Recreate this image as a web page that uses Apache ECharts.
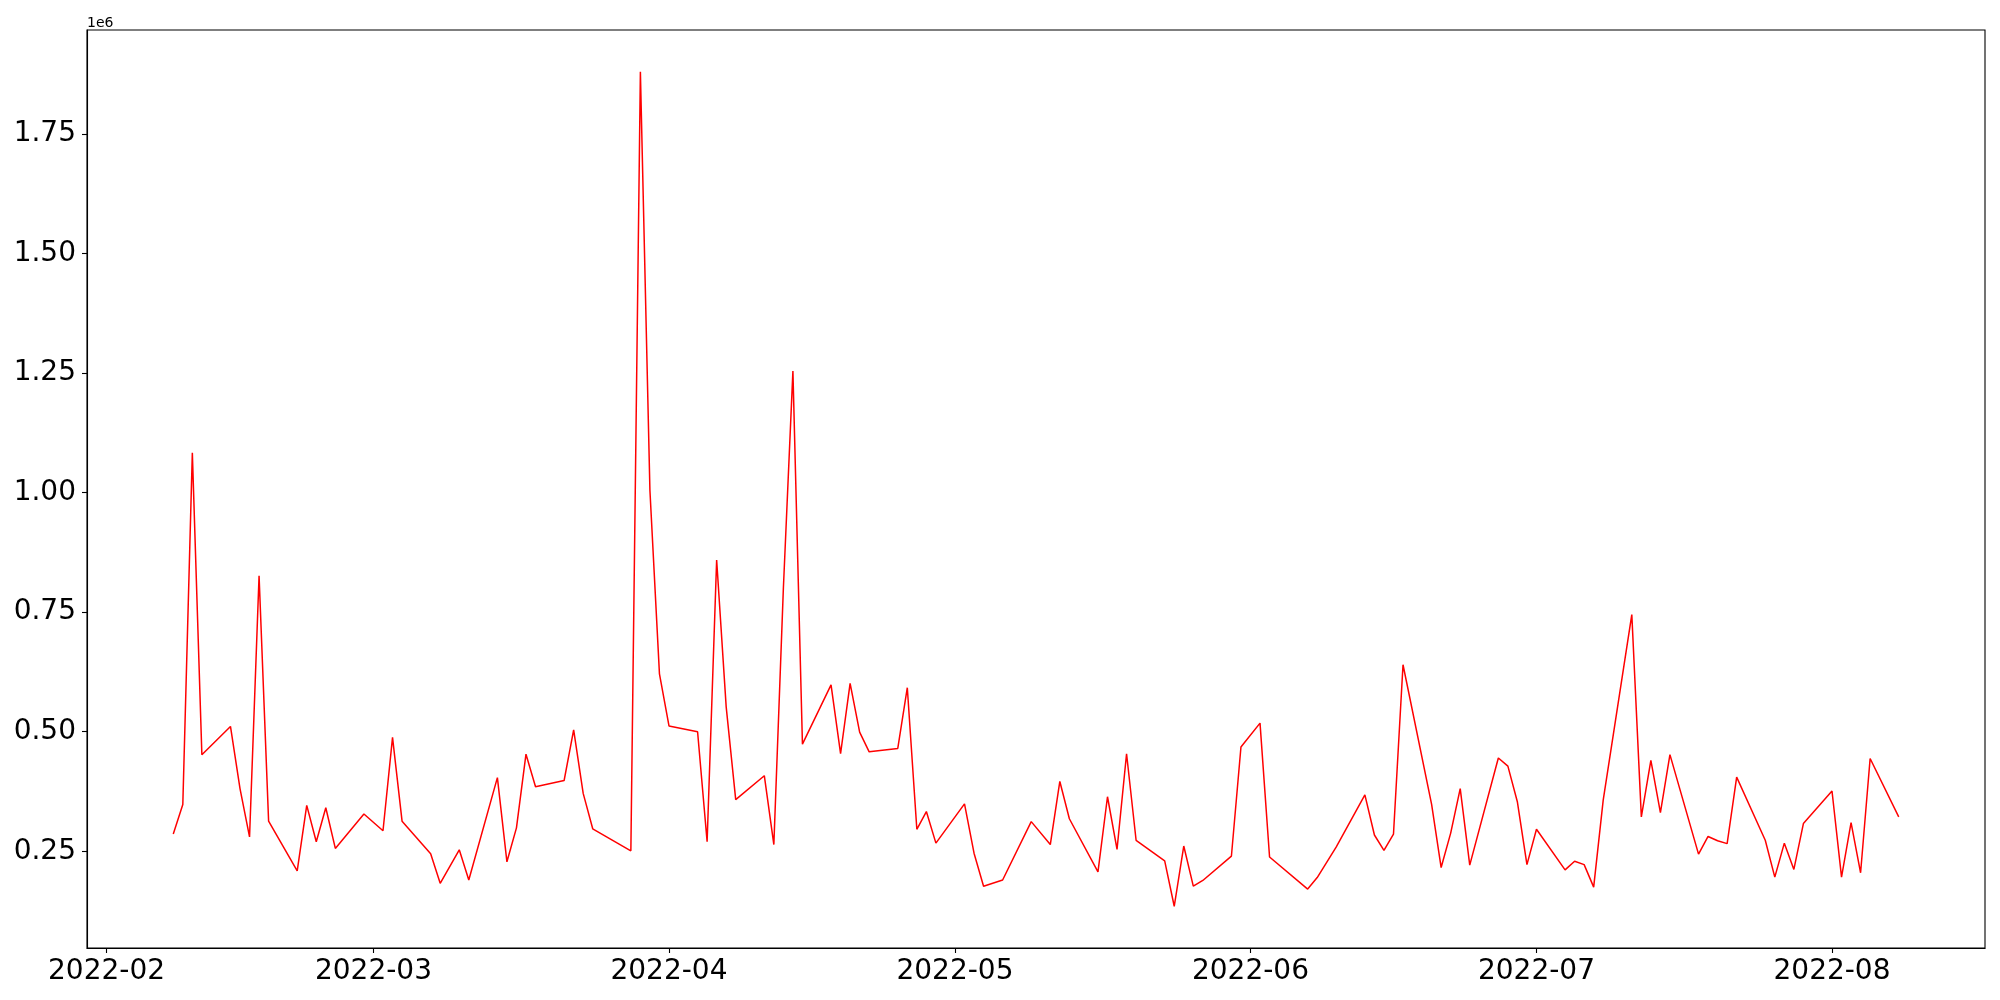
<!DOCTYPE html>
<html>
<head>
<meta charset="utf-8">
<script src="https://cdn.jsdelivr.net/npm/echarts@6/dist/echarts.min.js"></script>
<style>
html,body{margin:0;padding:0;background:#fff;}
#chart{width:2000px;height:1000px;}
</style>
</head>
<body>
<div id="chart"></div>
<script>
const dates = [
'2022-02-08','2022-02-09','2022-02-10','2022-02-11','2022-02-14','2022-02-15','2022-02-16','2022-02-17','2022-02-18',
'2022-02-21','2022-02-22','2022-02-23','2022-02-24','2022-02-25','2022-02-28',
'2022-03-02','2022-03-03','2022-03-04','2022-03-07','2022-03-08','2022-03-10','2022-03-11',
'2022-03-14','2022-03-15','2022-03-16','2022-03-17','2022-03-18','2022-03-21','2022-03-22','2022-03-23','2022-03-24',
'2022-03-28','2022-03-29','2022-03-30','2022-03-31','2022-04-01',
'2022-04-04','2022-04-05','2022-04-06','2022-04-07','2022-04-08','2022-04-11','2022-04-12','2022-04-13','2022-04-14','2022-04-15',
'2022-04-18','2022-04-19','2022-04-20','2022-04-21','2022-04-22','2022-04-25','2022-04-26','2022-04-27','2022-04-28','2022-04-29',
'2022-05-02','2022-05-03','2022-05-04','2022-05-06','2022-05-09','2022-05-11','2022-05-12','2022-05-13',
'2022-05-16','2022-05-17','2022-05-18','2022-05-19','2022-05-20','2022-05-23','2022-05-24','2022-05-25','2022-05-26','2022-05-27',
'2022-05-30','2022-05-31','2022-06-02','2022-06-03','2022-06-07','2022-06-08','2022-06-10',
'2022-06-13','2022-06-14','2022-06-15','2022-06-16','2022-06-17','2022-06-20','2022-06-21','2022-06-22','2022-06-23','2022-06-24',
'2022-06-27','2022-06-28','2022-06-29','2022-06-30','2022-07-01','2022-07-04','2022-07-05','2022-07-06','2022-07-07','2022-07-08',
'2022-07-11','2022-07-12','2022-07-13','2022-07-14','2022-07-15','2022-07-18','2022-07-19','2022-07-20','2022-07-21','2022-07-22',
'2022-07-25','2022-07-26','2022-07-27','2022-07-28','2022-07-29','2022-08-01','2022-08-02','2022-08-03','2022-08-04','2022-08-05',
'2022-08-08'
];
const values = [
286000,348000,1083000,452000,511000,381000,280000,826000,313000,
209000,346000,270000,341000,256000,328000,
293000,488000,313000,245000,183000,253000,190000,
404000,228000,299000,453000,385000,398000,504000,371000,297000,
251000,1880000,1005000,621000,512000,
500000,270000,859000,552000,358000,408000,264000,800000,1254000,474000,
598000,454000,601000,499000,458000,465000,592000,296000,333000,267000,
349000,246000,177000,190000,312000,264000,396000,318000,
207000,364000,254000,454000,273000,230000,135000,261000,177000,189000,
240000,468000,518000,238000,171000,195000,259000,
368000,284000,252000,286000,640000,348000,216000,288000,381000,221000,
445000,428000,353000,222000,296000,211000,229000,222000,175000,357000,
745000,322000,440000,331000,452000,244000,281000,272000,266000,405000,
273000,196000,267000,212000,308000,376000,196000,310000,205000,444000,
322000
];
const xTickLabels = ['2022-02','2022-03','2022-04','2022-05','2022-06','2022-07','2022-08'];
const yTickValues = [250000,500000,750000,1000000,1250000,1500000,1750000];

function ts(s){ const p=s.split('-').map(Number); return Date.UTC(p[0],p[1]-1,p[2]||1); }
const xs = dates.map(ts);
const xSpan = xs[xs.length-1]-xs[0];
const xMin = xs[0]-0.05*xSpan, xMax = xs[xs.length-1]+0.05*xSpan;
const vMin = Math.min(...values), vMax = Math.max(...values);
const ySpan = vMax - vMin;
const yMin = vMin-0.05*ySpan, yMax = vMax+0.05*ySpan;
const xTickValues = xTickLabels.map(ts);
const pad = n => (n<10?'0':'')+n;

const chart = echarts.init(document.getElementById('chart'), null, {renderer:'canvas'});
chart.setOption({
  animation:false,
  backgroundColor:'#ffffff',
  textStyle:{fontFamily:'DejaVu Sans'},
  grid:{left:87, top:30, right:15, bottom:52, show:true, borderColor:'#000', borderWidth:1.1, backgroundColor:'transparent'},
  xAxis:{
    type:'value', min:xMin, max:xMax, scale:true,
    axisLine:{show:true, onZero:false, lineStyle:{color:'#000', width:1.1}},
    axisTick:{show:true, inside:false, length:5, lineStyle:{color:'#000', width:1.1}, customValues:xTickValues},
    axisLabel:{show:true, color:'#000', fontSize:28, fontFamily:'DejaVu Sans', margin:10,
      customValues:xTickValues,
      formatter:function(v){ const d=new Date(v); return d.getUTCFullYear()+'-'+pad(d.getUTCMonth()+1); }},
    splitLine:{show:false}
  },
  yAxis:{
    type:'value', min:yMin, max:yMax, scale:true,
    axisLine:{show:true, onZero:false, lineStyle:{color:'#000', width:1.1}},
    axisTick:{show:true, inside:false, length:5, lineStyle:{color:'#000', width:1.1}, customValues:yTickValues},
    axisLabel:{show:true, color:'#000', fontSize:28, fontFamily:'DejaVu Sans', margin:11,
      customValues:yTickValues,
      formatter:function(v){ return (v/1e6).toFixed(2); }},
    splitLine:{show:false}
  },
  graphic:[{type:'text', left:87, top:16, style:{text:'1e6', fontSize:14, fontFamily:'DejaVu Sans', fill:'#000'}}],
  series:[{
    type:'line',
    data:xs.map((x,i)=>[x,values[i]]),
    showSymbol:false, symbol:'none',
    lineStyle:{color:'#ff0000', width:1.5},
    itemStyle:{color:'#ff0000'}
  }]
});
</script>
</body>
</html>
